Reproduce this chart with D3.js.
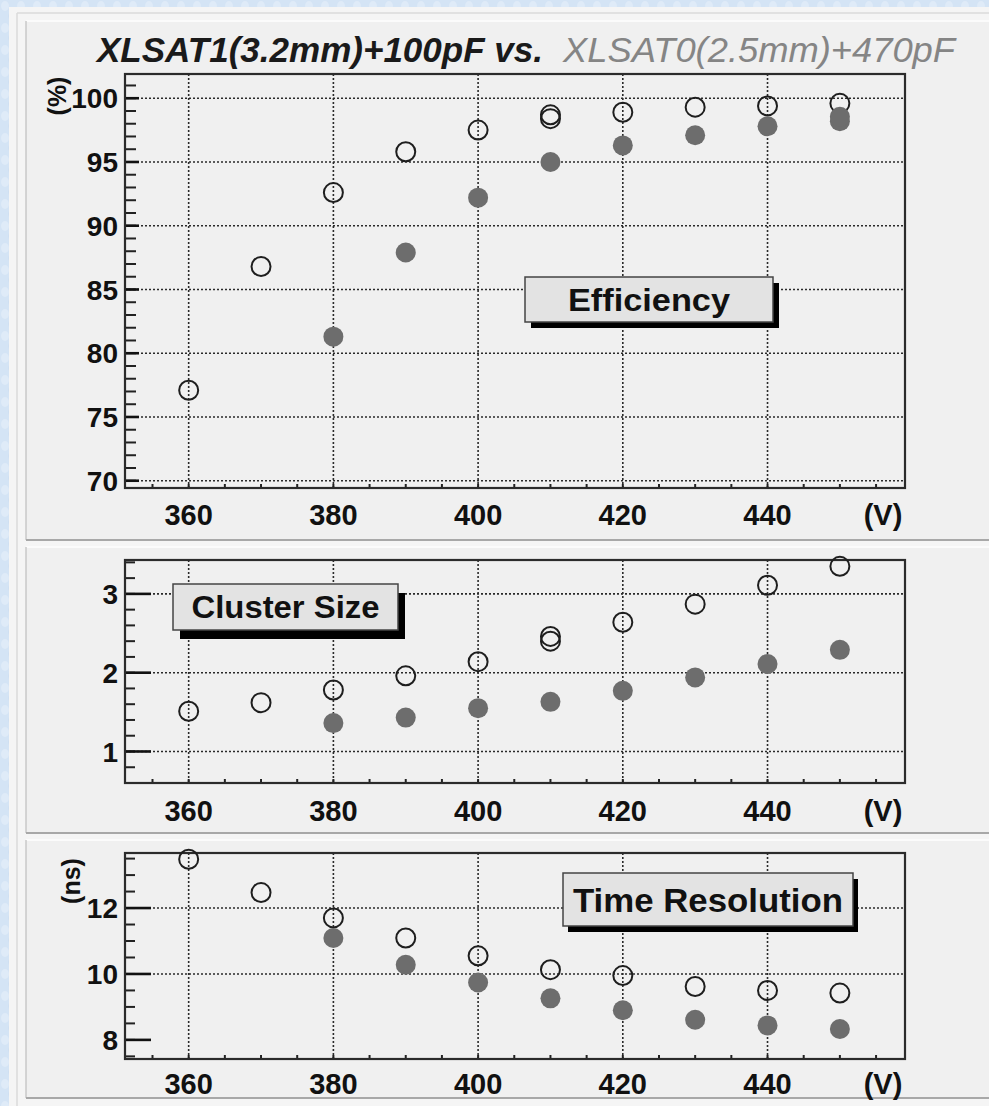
<!DOCTYPE html>
<html>
<head>
<meta charset="utf-8">
<script src="https://cdn.jsdelivr.net/npm/d3@7"></script>
<style>
  body { margin: 0; background: #d6e5f5; }
  svg { display: block; }
</style>
</head>
<body>
<svg id="chart" width="989" height="1106"></svg>
<script>
// ---- data: bias voltage (V) vs. measured quantities ----
// open markers: XLSAT1(3.2mm)+100pF, filled markers: XLSAT0(2.5mm)+470pF
const effOpenV   = [360, 370, 380, 390, 400, 410, 410, 420, 430, 440, 450];
const effOpen    = [77.1, 86.8, 92.6, 95.8, 97.5, 98.4, 98.7, 98.9, 99.3, 99.4, 99.6];
const effFillV   = [380, 390, 400, 410, 420, 430, 440, 450, 450];
const effFill    = [81.3, 87.9, 92.2, 95.0, 96.3, 97.1, 97.8, 98.2, 98.55];

const csOpenV    = [360, 370, 380, 390, 400, 410, 410, 420, 430, 440, 450];
const csOpen     = [1.51, 1.62, 1.78, 1.96, 2.14, 2.40, 2.46, 2.64, 2.87, 3.11, 3.35];
const csFillV    = [380, 390, 400, 410, 420, 430, 440, 450];
const csFill     = [1.36, 1.43, 1.55, 1.63, 1.77, 1.94, 2.11, 2.29];

const trOpenV    = [360, 370, 380, 390, 400, 410, 420, 430, 440, 450];
const trOpen     = [13.48, 12.47, 11.70, 11.09, 10.55, 10.13, 9.95, 9.62, 9.50, 9.42];
const trFillV    = [380, 390, 400, 410, 420, 430, 440, 450];
const trFill     = [11.09, 10.28, 9.74, 9.26, 8.90, 8.61, 8.44, 8.33];

// ---- axis ticks ----
const xDomain     = [351.2, 459];
const xLabelTicks = [360, 380, 400, 420, 440];
const xGridTicks  = [360, 380, 400, 420, 440];
const xMinorTicks = d3.range(355, 459, 5);

const effDomain = [69.43, 101.9];
const effMajor  = [70, 75, 80, 85, 90, 95, 100];
const effGrid   = [70, 75, 80, 85, 90, 95, 100];
const effMinor  = d3.range(70, 102, 1);

const csDomain  = [0.6, 3.43];
const csMajor   = [1, 2, 3];
const csGrid    = [1, 2, 3];
const csMinor   = d3.range(0.6, 3.43, 0.2);

const trDomain  = [7.42, 13.67];
const trMajor   = [8, 10, 12];
const trGrid    = [10, 12];
const trMinor   = d3.range(7.5, 13.67, 0.5);

const titleLeft  = "XLSAT1(3.2mm)+100pF vs.";
const titleRight = "XLSAT0(2.5mm)+470pF";

// ---- layout ----
const FONT = "'Liberation Sans', Arial, Helvetica, sans-serif";
const frameL = 125, frameR = 905;
const svg = d3.select("#chart");

// soft light-blue textured strip behind the canvas
const defs = svg.append("defs");
const pat = defs.append("pattern").attr("id", "tex")
  .attr("width", 16).attr("height", 22).attr("patternUnits", "userSpaceOnUse");
pat.append("rect").attr("width", 16).attr("height", 22).attr("fill", "#d4e4f5");
pat.append("ellipse").attr("cx", 5).attr("cy", 6).attr("rx", 4).attr("ry", 5).attr("fill", "#dfebf8");
pat.append("ellipse").attr("cx", 12).attr("cy", 16).attr("rx", 3.5).attr("ry", 4.5).attr("fill", "#cadcf0");
svg.append("rect").attr("width", 989).attr("height", 1106).attr("fill", "url(#tex)");

// canvas
svg.append("rect").attr("x", 9).attr("y", 7).attr("width", 980).attr("height", 1099)
  .attr("fill", "#f5f5f5");
svg.append("line").attr("x1", 17).attr("x2", 989).attr("y1", 13).attr("y2", 13)
  .attr("stroke", "#dadada").attr("stroke-width", 1.5);
svg.append("line").attr("x1", 17).attr("x2", 17).attr("y1", 13).attr("y2", 1106)
  .attr("stroke", "#dadada").attr("stroke-width", 1.5);

const x = d3.scaleLinear().domain(xDomain).range([frameL, frameR]);

const panels = [
  { padTop: 21, padBot: 540, top: 74, bot: 488, domain: effDomain,
    major: effMajor, grid: effGrid, minor: effMinor, majorLen: 14, minorLen: 11,
    openV: effOpenV, open: effOpen, fillV: effFillV, fill: effFill,
    unit: "(%)", unitX: 57, unitY: 96,
    label: "Efficiency", box: [525, 277, 248, 45], fs: 31, tl: 162, shadow: [6, 6], xlab: 525 },
  { padTop: 547, padBot: 833, top: 560, bot: 783, domain: csDomain,
    major: csMajor, grid: csGrid, minor: csMinor, majorLen: 26, minorLen: 10,
    openV: csOpenV, open: csOpen, fillV: csFillV, fill: csFill,
    unit: null,
    label: "Cluster Size", box: [173, 584, 225, 46], fs: 31, tl: 188, shadow: [7, 9], xlab: 821 },
  { padTop: 840, padBot: 1098, top: 853, bot: 1059, domain: trDomain,
    major: trMajor, grid: trGrid, minor: trMinor, majorLen: 26, minorLen: 10,
    openV: trOpenV, open: trOpen, fillV: trFillV, fill: trFill,
    unit: "(ns)", unitX: 71, unitY: 881,
    label: "Time Resolution", box: [563, 873, 290, 53], fs: 34, tl: 270, shadow: [5, 6], xlab: 1094 }
];

panels.forEach(p => {
  const g = svg.append("g");
  // pad with bevelled border
  g.append("rect").attr("x", 26).attr("y", p.padTop).attr("width", 963)
    .attr("height", p.padBot - p.padTop).attr("fill", "#f0f0f0");
  g.append("line").attr("x1", 26).attr("x2", 989).attr("y1", p.padTop).attr("y2", p.padTop)
    .attr("stroke", "#fbfbfb").attr("stroke-width", 2);
  g.append("line").attr("x1", 26).attr("x2", 26).attr("y1", p.padTop).attr("y2", p.padBot)
    .attr("stroke", "#c9c9c9").attr("stroke-width", 1.5);
  g.append("line").attr("x1", 26).attr("x2", 989).attr("y1", p.padBot).attr("y2", p.padBot)
    .attr("stroke", "#a8a8a8").attr("stroke-width", 2);

  const y = d3.scaleLinear().domain(p.domain).range([p.bot, p.top]);

  // grid
  g.selectAll(".gx").data(xGridTicks).join("line")
    .attr("x1", d => x(d)).attr("x2", d => x(d)).attr("y1", p.top).attr("y2", p.bot)
    .attr("stroke", "#2a2a2a").attr("stroke-width", 1.6).attr("stroke-dasharray", "2,2");
  g.selectAll(".gy").data(p.grid).join("line")
    .attr("x1", frameL).attr("x2", frameR).attr("y1", d => y(d)).attr("y2", d => y(d))
    .attr("stroke", "#2a2a2a").attr("stroke-width", 1.6).attr("stroke-dasharray", "2,2");

  // y ticks
  g.selectAll(".ym").data(p.minor).join("line")
    .attr("x1", frameL).attr("x2", frameL + p.minorLen).attr("y1", d => y(d)).attr("y2", d => y(d))
    .attr("stroke", "#222").attr("stroke-width", 2);
  g.selectAll(".yM").data(p.major).join("line")
    .attr("x1", frameL).attr("x2", frameL + p.majorLen).attr("y1", d => y(d)).attr("y2", d => y(d))
    .attr("stroke", "#111").attr("stroke-width", 2.6);
  g.selectAll(".yl").data(p.major).join("text")
    .attr("x", 118).attr("y", d => y(d)).attr("dy", "0.36em")
    .attr("text-anchor", "end").attr("font-family", FONT).attr("font-weight", "bold")
    .attr("font-size", 28).attr("fill", "#111").text(d => d);

  // x ticks
  g.selectAll(".xm").data(xMinorTicks).join("line")
    .attr("x1", d => x(d)).attr("x2", d => x(d)).attr("y1", p.bot).attr("y2", p.bot - 4)
    .attr("stroke", "#222").attr("stroke-width", 2);
  g.selectAll(".xl").data(xLabelTicks).join("text")
    .attr("x", d => x(d)).attr("y", p.xlab)
    .attr("text-anchor", "middle").attr("font-family", FONT).attr("font-weight", "bold")
    .attr("font-size", 29).attr("fill", "#111").text(d => d);
  g.append("text").attr("x", 883).attr("y", p.xlab).attr("text-anchor", "middle")
    .attr("font-family", FONT).attr("font-weight", "bold").attr("font-size", 29)
    .attr("fill", "#111").text("(V)");

  // frame
  g.append("rect").attr("x", frameL).attr("y", p.top)
    .attr("width", frameR - frameL).attr("height", p.bot - p.top)
    .attr("fill", "none").attr("stroke", "#2b2b2b").attr("stroke-width", 2.2);

  if (p.unit) {
    g.append("text").attr("transform", `translate(${p.unitX},${p.unitY}) rotate(-90)`)
      .attr("text-anchor", "middle").attr("dy", "0.35em")
      .attr("font-family", FONT).attr("font-weight", "bold").attr("font-size", 25)
      .attr("fill", "#111").text(p.unit);
  }

  // label box with drop shadow
  const [bx, by, bw, bh] = p.box;
  g.append("rect").attr("x", bx + p.shadow[0]).attr("y", by + p.shadow[1])
    .attr("width", bw).attr("height", bh).attr("fill", "#000");
  g.append("rect").attr("x", bx).attr("y", by).attr("width", bw).attr("height", bh)
    .attr("fill", "#e3e3e3").attr("stroke", "#444").attr("stroke-width", 1.5);
  g.append("text").attr("x", bx + bw / 2).attr("y", by + bh / 2).attr("dy", "0.36em")
    .attr("text-anchor", "middle").attr("font-family", FONT).attr("font-weight", "bold")
    .attr("font-size", p.fs).attr("textLength", p.tl).attr("lengthAdjust", "spacingAndGlyphs")
    .attr("fill", "#111").text(p.label);

  // markers
  g.selectAll(".op").data(p.openV.map((v, i) => [v, p.open[i]])).join("circle")
    .attr("cx", d => x(d[0])).attr("cy", d => y(d[1])).attr("r", 9.5)
    .attr("fill", "none").attr("stroke", "#1e1e1e").attr("stroke-width", 2);
  g.selectAll(".fp").data(p.fillV.map((v, i) => [v, p.fill[i]])).join("circle")
    .attr("cx", d => x(d[0])).attr("cy", d => y(d[1])).attr("r", 10)
    .attr("fill", "#6d6d6d");
});

// title
const title = svg.append("text").attr("y", 62).attr("font-family", FONT)
  .attr("font-style", "italic").attr("font-size", 35);
title.append("tspan").attr("x", 97).attr("font-weight", "bold").attr("fill", "#1a1a1a")
  .attr("textLength", 446).attr("lengthAdjust", "spacingAndGlyphs").text(titleLeft);
title.append("tspan").attr("x", 563).attr("font-weight", "normal").attr("fill", "#858585")
  .attr("textLength", 392).attr("lengthAdjust", "spacingAndGlyphs").text(titleRight);
</script>
</body>
</html>
